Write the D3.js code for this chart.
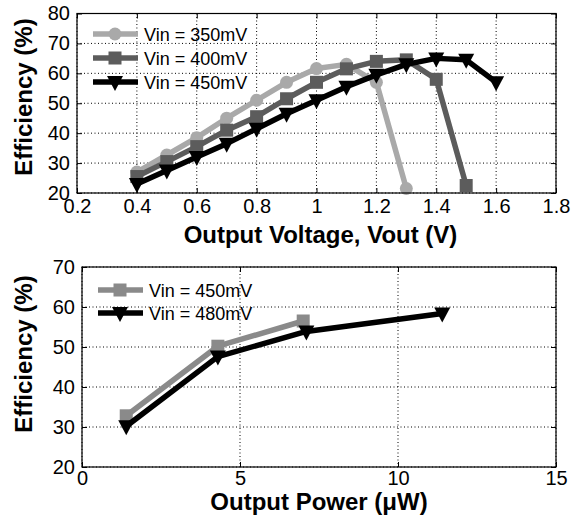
<!DOCTYPE html>
<html lang="en">
<head>
<meta charset="UTF-8">
<title>Efficiency vs output voltage and power</title>
<script src="https://d3js.org/d3.v7.min.js"></script>
<style>
  body { margin: 0; background: #fff; }
  svg { font-family: "Liberation Sans", Arial, sans-serif; }
</style>
</head>
<body>
<svg id="chart" width="581" height="524"></svg>
<script>
    // top panel: efficiency vs Vout
    const vout = [0.4, 0.5, 0.6, 0.7, 0.8, 0.9, 1.0, 1.1, 1.2, 1.3, 1.4, 1.5, 1.6];
    const eff350 = [27, 32.7, 38.5, 45, 51, 57, 61.6, 63, 57, 21.5];
    const eff400 = [25.5, 30.5, 35.5, 41, 45.5, 51.5, 57, 61.5, 64, 64.5, 58, 22.5];
    const eff450 = [23, 27.5, 32, 36.5, 41.5, 46.5, 51, 55.5, 59.5, 63, 65, 64.5, 57];
    const voutTicks = [0.2, 0.4, 0.6, 0.8, 1.0, 1.2, 1.4, 1.6, 1.8];
    const effTicksTop = [20, 30, 40, 50, 60, 70, 80];

    // bottom panel: efficiency vs output power
    const pow450 = [1.4, 4.3, 7.0];
    const effP450 = [32.8, 50.2, 56.5];
    const pow480 = [1.4, 4.3, 7.1, 11.4];
    const effP480 = [30.2, 47.6, 53.9, 58.4];
    const powTicks = [0, 5, 10, 15];
    const effTicksBottom = [20, 30, 40, 50, 60, 70];

    const svg = d3.select("#chart");

    function drawMarker(g, type, x, y, color) {
        if (type === "circle") {
            g.append("circle").attr("cx", x).attr("cy", y).attr("r", 6.5).attr("fill", color);
        } else if (type === "square") {
            g.append("rect").attr("x", x - 6.5).attr("y", y - 6.5)
                .attr("width", 13).attr("height", 13).attr("fill", color);
        } else {
            g.append("path")
                .attr("d", `M${x - 8},${y - 6} L${x + 8},${y - 6} L${x},${y + 9} Z`)
                .attr("fill", color);
        }
    }

    function panel(opts) {
        const x = d3.scaleLinear().domain(opts.xDomain).range([opts.left, opts.right]);
        const y = d3.scaleLinear().domain(opts.yDomain).range([opts.bottom, opts.top]);
        const g = svg.append("g");

        // dotted grid
        g.selectAll(".gx").data(opts.xTicks).enter().append("line")
            .attr("x1", d => x(d)).attr("x2", d => x(d))
            .attr("y1", opts.top).attr("y2", opts.bottom)
            .attr("stroke", "#000").attr("stroke-width", 1).attr("stroke-dasharray", "1,2.5");
        g.selectAll(".gy").data(opts.yTicks).enter().append("line")
            .attr("x1", opts.left).attr("x2", opts.right)
            .attr("y1", d => y(d)).attr("y2", d => y(d))
            .attr("stroke", "#000").attr("stroke-width", 1).attr("stroke-dasharray", "1,2.5");

        // series (a series has only as many points as it has values)
        const line = d3.line().x(d => x(d[0])).y(d => y(d[1]));
        opts.series.forEach(s => {
            const pts = s.ys.map((v, i) => [s.xs[i], v]);
            g.append("path").datum(pts)
                .attr("fill", "none").attr("stroke", s.color)
                .attr("stroke-width", 5.5).attr("stroke-linejoin", "round")
                .attr("d", line);
            pts.forEach(p => drawMarker(g, s.marker, x(p[0]), y(p[1]), s.color));
        });

        // box and inward ticks
        g.append("rect")
            .attr("x", opts.left).attr("y", opts.top)
            .attr("width", opts.right - opts.left).attr("height", opts.bottom - opts.top)
            .attr("fill", "none").attr("stroke", "#000").attr("stroke-width", 1.2);

        const axB = d3.axisBottom(x).tickValues(opts.xTicks).tickSizeInner(-5).tickSizeOuter(0)
            .tickPadding(opts.xPad).tickFormat(opts.xFormat);
        const axT = d3.axisTop(x).tickValues(opts.xTicks).tickSizeInner(-5).tickSizeOuter(0).tickFormat("");
        const axL = d3.axisLeft(y).tickValues(opts.yTicks).tickSizeInner(-5).tickSizeOuter(0)
            .tickPadding(7).tickFormat(d3.format("d"));
        const axR = d3.axisRight(y).tickValues(opts.yTicks).tickSizeInner(-5).tickSizeOuter(0).tickFormat("");

        [[axB, `translate(0,${opts.bottom})`], [axT, `translate(0,${opts.top})`],
         [axL, `translate(${opts.left},0)`], [axR, `translate(${opts.right},0)`]].forEach(([ax, t]) => {
            const a = g.append("g").attr("transform", t).call(ax);
            a.select(".domain").remove();
            a.selectAll("line").attr("stroke", "#000");
            a.selectAll("text").attr("font-size", 20).attr("fill", "#000")
                .attr("font-family", "Liberation Sans, Arial, sans-serif");
        });

        // axis titles
        g.append("text")
            .attr("x", (opts.left + opts.right) / 2 + opts.xTitleDx).attr("y", opts.xTitleY)
            .attr("text-anchor", "middle").attr("font-size", 24).attr("font-weight", "bold")
            .text(opts.xTitle);
        g.append("text")
            .attr("transform", `translate(32,${opts.yTitleY}) rotate(-90)`)
            .attr("text-anchor", "middle").attr("font-size", 24).attr("font-weight", "bold")
            .text("Efficiency (%)");

        // legend
        const leg = g.append("g");
        opts.series.forEach((s, i) => {
            const ly = opts.legY + i * opts.legStep;
            leg.append("line")
                .attr("x1", opts.legX).attr("x2", opts.legX + 45)
                .attr("y1", ly).attr("y2", ly)
                .attr("stroke", s.color).attr("stroke-width", 5.5);
            drawMarker(leg, s.marker, opts.legX + 22, ly, s.color);
            leg.append("text")
                .attr("x", opts.legX + 51).attr("y", ly + 6.5)
                .attr("font-size", 18).text(s.label);
        });
    }

    panel({
        left: 77, right: 556, top: 13.5, bottom: 193,
        xDomain: [0.2, 1.8], yDomain: [20, 80],
        xTicks: voutTicks, yTicks: effTicksTop,
        xFormat: d => d3.format("~g")(d), xPad: 6,
        xTitle: "Output Voltage, Vout (V)", xTitleY: 243, xTitleDx: 4,
        yTitleY: 97,
        legX: 93, legY: 34, legStep: 24,
        series: [
            {label: "Vin = 350mV", xs: vout, ys: eff350, color: "#a9a9a9", marker: "circle"},
            {label: "Vin = 400mV", xs: vout, ys: eff400, color: "#5c5c5c", marker: "square"},
            {label: "Vin = 450mV", xs: vout, ys: eff450, color: "#000", marker: "triangle"}
        ]
    });

    panel({
        left: 82, right: 556, top: 267, bottom: 467,
        xDomain: [0, 15], yDomain: [20, 70],
        xTicks: powTicks, yTicks: effTicksBottom,
        xFormat: d3.format("d"), xPad: 4,
        xTitle: "Output Power (\u03bcW)", xTitleY: 510, xTitleDx: 0,
        yTitleY: 354,
        legX: 98, legY: 290, legStep: 23,
        series: [
            {label: "Vin = 450mV", xs: pow450, ys: effP450, color: "#8a8a8a", marker: "square"},
            {label: "Vin = 480mV", xs: pow480, ys: effP480, color: "#000", marker: "triangle"}
        ]
    });
</script>
</body>
</html>
